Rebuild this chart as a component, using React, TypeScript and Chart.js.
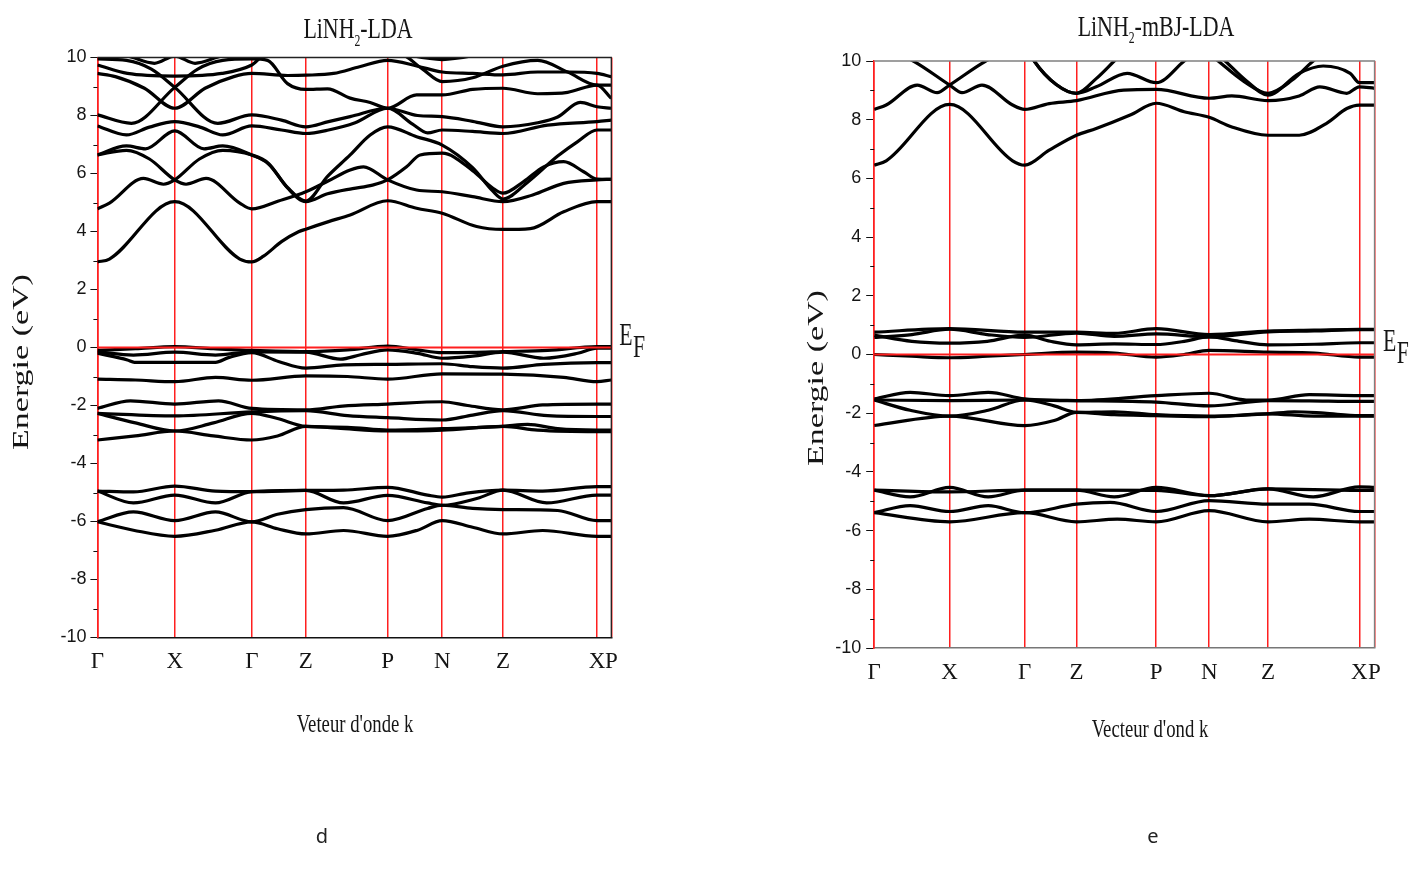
import React, { useEffect, useRef } from 'react';
import { Chart, registerables } from 'chart.js';

Chart.register(...registerables);

type Pt = [number, number];

// ---------- axis data ----------
const kLabels = ['Γ', 'X', 'Γ', 'Z', 'P', 'N', 'Z', 'X', 'P'];
const ldaKPoints = [0, 77.3, 154.3, 208.3, 290, 344.6, 405.3, 499.3, 513.6];
const mbjKPoints = [0, 75.4, 150.4, 202.2, 282, 335, 393.8, 485.1, 500.3];
const energyTicks = [-10, -8, -6, -4, -2, 0, 2, 4, 6, 8, 10];
const energyMinorTicks = [-9, -7, -5, -3, -1, 1, 3, 5, 7, 9];
const energyMin = -10;
const energyMax = 10;
const fermiLevel = 0;

// ---------- LiNH2-LDA : conduction bands [k, E(eV)] ----------
const ldaC1: Pt[] = [[0,2.95],[12,3.05],[77.3,5.03],[142.3,3.05],[154.3,2.95],[166,3.15],[184,3.65],[201,3.99],[208.3,4.08],[231,4.34],[252.6,4.57],[290,5.06],[319,4.8],[344.6,4.63],[379,4.17],[405.3,4.07],[432.6,4.1],[466,4.68],[499.3,5.03],[513.6,5.03]];
const ldaC2: Pt[] = [[0,4.78],[12,4.98],[46,5.83],[66,5.63],[77.3,5.78],[102,6.5],[125.3,6.8],[154.3,6.64],[171,6.35],[190,5.5],[208.3,5.03],[230,5.3],[255,5.48],[275,5.6],[290,5.78],[309,6.23],[322.6,6.64],[344.6,6.7],[375,6.1],[395,5.5],[405.3,5.32],[426,5.72],[446,6.23],[466,6.41],[486,6.06],[499.3,5.81],[513.6,5.8]];
const ldaC3: Pt[] = [[0,6.64],[29,6.8],[52,6.5],[77.3,5.78],[88.6,5.63],[108.6,5.83],[142.3,4.98],[154.3,4.78],[181,5.05],[208.3,5.37],[231,5.75],[252.6,6.12],[266,6.23],[290,5.78],[319,5.43],[344.6,5.37],[375,5.2],[405.3,5.03],[435,5.26],[466,5.66],[499.3,5.78],[513.6,5.8]];
const ldaC4: Pt[] = [[0,6.64],[29,6.95],[48,6.85],[77.3,7.47],[106.6,6.85],[125.3,6.95],[154.3,6.64],[171,6.33],[190,5.52],[208.3,5.05],[230,5.9],[252.6,6.64],[272.6,7.33],[290,7.61],[319,7.27],[344.6,6.98],[375,6.2],[395,5.4],[405.3,5.12],[430,5.7],[460,6.6],[480,7.1],[499.3,7.5],[513.6,7.5]];
const ldaC5: Pt[] = [[0,7.64],[29,7.33],[52,7.6],[77.3,7.79],[102.6,7.6],[125.3,7.33],[154.3,7.64],[184,7.5],[208.3,7.38],[231,7.5],[257.6,7.75],[290,8.25],[315,7.7],[330,7.4],[344.6,7.5],[375,7.45],[405.3,7.38],[450,7.67],[499.3,7.79],[513.6,7.84]];
const ldaC6: Pt[] = [[0,9.95],[29,9.9],[54,9.6],[77.3,8.97],[120.3,7.73],[154.3,8.02],[184,7.84],[208.3,7.61],[231,7.79],[252.6,7.96],[290,8.25],[320,8.0],[344.6,7.96],[375,7.8],[405.3,7.61],[440,7.75],[460,7.95],[482.6,8.45],[499.3,8.3],[513.6,8.25]];
const ldaC7: Pt[] = [[0,8.02],[34,7.73],[77.3,8.97],[100.3,9.6],[125.3,9.9],[154.3,9.95],[170,9.9],[190,9.1],[208.3,8.9],[230,8.92],[252.6,8.6],[272.6,8.45],[290,8.25],[319,8.71],[344.6,8.71],[375,8.9],[405.3,8.94],[440,8.75],[470,8.8],[499.3,9.05],[513.6,8.59]];
const ldaC8: Pt[] = [[0,9.45],[18,9.34],[47,8.94],[77.3,8.25],[107.6,8.94],[136.3,9.34],[154.3,9.45],[190,9.38],[208.3,9.39],[236,9.45],[262,9.68],[290,9.9],[320,9.7],[344.6,9.5],[375,9.45],[405.3,9.4],[440,9.5],[470,9.5],[499.3,9.45],[513.6,9.34]];
const ldaC9: Pt[] = [[0,9.74],[30,9.45],[77.3,9.36],[124.3,9.45],[154.3,9.74],[170,10.15],[300,10.15],[325,9.6],[344.6,9.17],[375,9.3],[405.3,9.7],[440,9.9],[470,9.5],[499.3,9.05],[513.6,9.05]];
const ldaC10: Pt[] = [[0,10.2],[30,10.05],[57,9.8],[77.3,10.05],[97.6,9.8],[124.3,10.05],[154.3,10.2]];
const ldaC11: Pt[] = [[300,10.15],[344.6,9.93],[390,10.15]];

// ---------- LiNH2-LDA : valence bands ----------
const ldaV1: Pt[] = [[0,-0.1],[38,-0.04],[77.3,0.03],[116,-0.04],[154.3,-0.1],[208.3,-0.14],[250,-0.08],[290,0.05],[320,-0.08],[344.6,-0.18],[375,-0.17],[405.3,-0.14],[450,-0.1],[499.3,0.03],[513.6,0.03]];
const ldaV2: Pt[] = [[0,-0.15],[36,-0.26],[77.3,-0.16],[118,-0.26],[154.3,-0.15],[208.3,-0.16],[243,-0.4],[263,-0.25],[290,-0.08],[320,-0.2],[344.6,-0.37],[375,-0.3],[405.3,-0.16],[446,-0.37],[480,-0.2],[499.3,-0.02],[513.6,-0.02]];
const ldaV3: Pt[] = [[0,-0.2],[30,-0.43],[37,-0.51],[77.3,-0.51],[118,-0.51],[131,-0.35],[154.3,-0.18],[181,-0.48],[208.3,-0.71],[246,-0.6],[290,-0.58],[344.6,-0.56],[375,-0.66],[405.3,-0.71],[446,-0.58],[499.3,-0.52],[513.6,-0.52]];
const ldaV4: Pt[] = [[0,-1.09],[38,-1.12],[77.3,-1.18],[118,-1.03],[154.3,-1.13],[208.3,-0.98],[250,-1.0],[290,-1.09],[344.6,-0.91],[405.3,-0.92],[466,-1.03],[499.3,-1.18],[513.6,-1.12]];
const ldaV5: Pt[] = [[0,-2.1],[33,-1.84],[77.3,-1.95],[121,-1.84],[154.3,-2.1],[208.3,-2.15],[245,-2.02],[290,-1.95],[344.6,-1.87],[370,-2.0],[405.3,-2.15],[445,-1.98],[499.3,-1.95],[513.6,-1.95]];
const ldaV6: Pt[] = [[0,-2.27],[77.3,-2.36],[154.3,-2.22],[208.3,-2.18],[250,-2.35],[290,-2.42],[344.6,-2.5],[375,-2.33],[405.3,-2.18],[450,-2.35],[499.3,-2.38],[513.6,-2.38]];
const ldaV7: Pt[] = [[0,-2.27],[38,-2.6],[77.3,-2.88],[116,-2.6],[154.3,-2.27],[180,-2.45],[208.3,-2.72],[250,-2.75],[290,-2.85],[344.6,-2.8],[405.3,-2.72],[430,-2.65],[460,-2.8],[499.3,-2.85],[513.6,-2.85]];
const ldaV8: Pt[] = [[0,-3.19],[38,-3.05],[77.3,-2.88],[116,-3.05],[154.3,-3.19],[180,-3.05],[208.3,-2.72],[240,-2.78],[290,-2.88],[344.6,-2.85],[405.3,-2.72],[440,-2.85],[499.3,-2.9],[513.6,-2.9]];
const ldaV9: Pt[] = [[0,-4.95],[36,-4.98],[77.3,-4.78],[118,-4.95],[154.3,-4.97],[208.3,-4.93],[246,-4.92],[290,-4.82],[330,-5.09],[344.6,-5.16],[371,-5.01],[405.3,-4.92],[445,-4.95],[499.3,-4.8],[513.6,-4.8]];
const ldaV10: Pt[] = [[0,-4.95],[36,-5.36],[77.3,-5.09],[118,-5.36],[154.3,-4.97],[208.3,-4.93],[246,-5.36],[290,-5.1],[330,-5.36],[344.6,-5.44],[380,-5.2],[405.3,-4.92],[449,-5.36],[499.3,-5.09],[513.6,-5.09]];
const ldaV11: Pt[] = [[0,-6.01],[36,-5.67],[77.3,-5.97],[118,-5.67],[154.3,-6.01],[180,-5.75],[208.3,-5.59],[246,-5.52],[290,-5.97],[330,-5.55],[344.6,-5.44],[375,-5.55],[405.3,-5.59],[460,-5.62],[499.3,-5.97],[513.6,-5.97]];
const ldaV12: Pt[] = [[0,-6.01],[36,-6.3],[77.3,-6.51],[118,-6.3],[154.3,-6.01],[180,-6.25],[208.3,-6.43],[246,-6.31],[290,-6.51],[320,-6.3],[344.6,-5.97],[375,-6.2],[405.3,-6.43],[445,-6.31],[499.3,-6.51],[513.6,-6.51]];

// ---------- LiNH2-mBJ-LDA : conduction bands ----------
const mbjC1: Pt[] = [[0,6.45],[12,6.6],[75.4,8.52],[138.4,6.6],[150.4,6.45],[175,6.96],[202.2,7.47],[222,7.7],[256,8.16],[282,8.56],[310,8.27],[335,8.08],[357,7.76],[393.8,7.47],[425,7.47],[452,7.87],[472.6,8.38],[485.1,8.5],[500.3,8.5]];
const mbjC2: Pt[] = [[0,8.35],[12,8.5],[43,9.18],[63,8.92],[75.4,9.18],[110.8,9.98],[150.4,10.6],[160,10.0],[182,9.2],[202.2,8.9],[222,9.12],[253,9.58],[282,9.26],[310,10.0],[325,10.4]];
const mbjC3: Pt[] = [[0,10.6],[40,9.98],[75.4,9.18],[87.8,8.92],[107.8,9.18],[138.4,8.5],[150.4,8.35],[175,8.55],[202.2,8.65],[249.5,9.01],[282,9.03],[335,8.73],[357.6,8.81],[393.8,8.65],[425,8.81],[445.6,9.12],[472.6,8.9],[485.1,9.12],[500.3,9.07]];
const mbjC4: Pt[] = [[150.4,10.6],[160,10.0],[182,9.2],[202.2,8.9],[222,9.4],[240,10.0],[255,10.5]];
const mbjC5: Pt[] = [[330,10.4],[344,10.0],[370,9.3],[393.8,8.9],[418,9.35],[439,10.0],[455,10.4]];
const mbjC6: Pt[] = [[335,10.5],[351,10.0],[373,9.3],[393.8,8.84],[425,9.58],[449,9.83],[476,9.58],[485.1,9.26],[500.3,9.26]];

// ---------- LiNH2-mBJ-LDA : valence bands ----------
const mbjV1: Pt[] = [[0,0.76],[75.4,0.88],[150.4,0.76],[202.2,0.76],[240,0.72],[282,0.88],[335,0.68],[393.8,0.8],[440,0.83],[485.1,0.86],[500.3,0.86]];
const mbjV2: Pt[] = [[0,0.58],[37.7,0.68],[75.4,0.86],[113,0.68],[150.4,0.58],[202.2,0.73],[240,0.62],[282,0.7],[335,0.6],[393.8,0.77],[440,0.8],[485.1,0.85],[500.3,0.85]];
const mbjV3: Pt[] = [[0,0.66],[37.7,0.45],[75.4,0.39],[113,0.45],[150.4,0.66],[176,0.45],[202.2,0.33],[240,0.36],[282,0.34],[310,0.45],[335,0.6],[365,0.45],[393.8,0.33],[440,0.35],[485.1,0.4],[500.3,0.4]];
const mbjV4: Pt[] = [[0,0.0],[37.7,-0.06],[75.4,-0.11],[113,-0.06],[150.4,0.0],[202.2,0.08],[240,0.05],[282,-0.09],[310,0.0],[335,0.14],[393.8,0.08],[440,0.05],[485.1,-0.09],[500.3,-0.09]];
const mbjV5: Pt[] = [[0,-1.51],[36,-1.29],[75.4,-1.4],[114,-1.29],[150.4,-1.51],[202.2,-1.57],[282,-1.4],[335,-1.32],[372,-1.55],[393.8,-1.55],[435,-1.37],[485.1,-1.4],[500.3,-1.4]];
const mbjV6: Pt[] = [[0,-1.55],[75.4,-1.57],[150.4,-1.55],[202.2,-1.57],[282,-1.62],[335,-1.75],[393.8,-1.57],[435,-1.58],[485.1,-1.6],[500.3,-1.6]];
const mbjV7: Pt[] = [[0,-1.55],[36,-1.9],[75.4,-2.1],[114,-1.9],[150.4,-1.55],[180,-1.75],[202.2,-1.97],[240,-1.95],[282,-2.05],[335,-2.1],[393.8,-2.02],[420,-1.95],[450,-2.0],[485.1,-2.08],[500.3,-2.08]];
const mbjV8: Pt[] = [[0,-2.42],[75.4,-2.1],[150.4,-2.42],[180,-2.25],[202.2,-1.97],[240,-2.05],[282,-2.08],[335,-2.12],[393.8,-2.02],[440,-2.1],[485.1,-2.1],[500.3,-2.1]];
const mbjV9: Pt[] = [[0,-4.62],[36,-4.85],[75.4,-4.53],[114,-4.85],[150.4,-4.62],[202.2,-4.62],[240,-4.85],[282,-4.53],[335,-4.81],[393.8,-4.58],[439,-4.85],[485.1,-4.51],[500.3,-4.53]];
const mbjV10: Pt[] = [[0,-4.62],[75.4,-4.68],[150.4,-4.62],[202.2,-4.62],[282,-4.63],[335,-4.81],[393.8,-4.58],[485.1,-4.63],[500.3,-4.63]];
const mbjV11: Pt[] = [[0,-5.39],[36,-5.15],[75.4,-5.35],[114,-5.15],[150.4,-5.39],[202.2,-5.1],[236,-5.04],[282,-5.35],[335,-4.98],[393.8,-5.1],[435,-5.1],[485.1,-5.35],[500.3,-5.35]];
const mbjV12: Pt[] = [[0,-5.39],[75.4,-5.7],[150.4,-5.39],[202.2,-5.7],[243,-5.61],[282,-5.7],[335,-5.32],[393.8,-5.7],[435,-5.61],[485.1,-5.7],[500.3,-5.7]];

const ldaBands = [ldaC1, ldaC2, ldaC3, ldaC4, ldaC5, ldaC6, ldaC7, ldaC8, ldaC9, ldaC10, ldaC11,
  ldaV1, ldaV2, ldaV3, ldaV4, ldaV5, ldaV6, ldaV7, ldaV8, ldaV9, ldaV10, ldaV11, ldaV12];
const mbjBands = [mbjC1, mbjC2, mbjC3, mbjC4, mbjC5, mbjC6,
  mbjV1, mbjV2, mbjV3, mbjV4, mbjV5, mbjV6, mbjV7, mbjV8, mbjV9, mbjV10, mbjV11, mbjV12];

// ---------- layout / style ----------
const SERIF = '"Liberation Serif", "Times New Roman", serif';
const SANS = '"Liberation Sans", Arial, sans-serif';
const RED = '#ff1f1f';

const PANELS = [
  {
    id: 'lda', bands: ldaBands, kPoints: ldaKPoints, left: 0, width: 705, height: 874,
    padding: { left: 0, right: 93.7, top: 57.5, bottom: 136.5 }, yAxisWidth: 97.4, xAxisHeight: 100,
    tickLen: 7, tickPad: 4, axisColor: '#111', frameColor: '#222',
    title: ['LiNH', '2', '-LDA'], titleX: 358, titleY: 38.3,
    xTitle: "Veteur d'onde k", xTitleX: 355, xTitleY: 732,
    yTitleX: 22.5, yTitleY: 362, efX: 619.3, efDyE: -2.5, efDyF: 9.2,
  },
  {
    id: 'mbj', bands: mbjBands, kPoints: mbjKPoints, left: 705, width: 705, height: 874,
    padding: { left: 71.8, right: 35.5, top: 61, bottom: 126 }, yAxisWidth: 97.4, xAxisHeight: 100,
    tickLen: 8, tickPad: 5, axisColor: '#777', frameColor: '#808080',
    title: ['LiNH', '2', '-mBJ-LDA'], titleX: 1156, titleY: 35.5,
    xTitle: "Vecteur d'ond k", xTitleX: 1150, xTitleY: 737,
    yTitleX: 817.5, yTitleY: 378, efX: 1383, efDyE: -4, efDyF: 8,
  },
];

function drawScaled(ctx: CanvasRenderingContext2D, text: string, x: number, y: number, font: string, sx: number, align: CanvasTextAlign = 'left') {
  ctx.save();
  ctx.translate(x, y);
  ctx.scale(sx, 1);
  ctx.font = font;
  ctx.textAlign = align;
  ctx.textBaseline = 'alphabetic';
  ctx.fillText(text, 0, 0);
  ctx.restore();
}

function makeDecor(spec: any) {
  return {
    id: 'decor_' + spec.id,
    afterDraw(chart: any) {
      const { ctx, chartArea: a, scales } = chart;
      const yS = scales.y;
      const ox = spec.left;
      ctx.save();
      // minor ticks
      ctx.strokeStyle = '#111';
      ctx.lineWidth = 1;
      for (const v of energyMinorTicks) {
        const py = Math.round(yS.getPixelForValue(v)) + 0.5;
        ctx.beginPath();
        ctx.moveTo(a.left - 4, py);
        ctx.lineTo(a.left, py);
        ctx.stroke();
      }
      // frame top + right
      ctx.strokeStyle = spec.frameColor;
      ctx.lineWidth = 1.3;
      ctx.beginPath();
      ctx.moveTo(a.left, a.top);
      ctx.lineTo(a.right, a.top);
      ctx.lineTo(a.right, a.bottom);
      ctx.stroke();

      ctx.fillStyle = '#151515';
      // title with subscript
      const sx = 0.73;
      const parts = [
        { t: spec.title[0], size: 30, dy: 0 },
        { t: spec.title[1], size: 16, dy: 7.7 },
        { t: spec.title[2], size: 30, dy: 0 },
      ];
      let total = 0;
      for (const p of parts) { ctx.font = `${p.size}px ${SERIF}`; total += ctx.measureText(p.t).width * sx; }
      let x = spec.titleX - ox - total / 2;
      for (const p of parts) {
        const f = `${p.size}px ${SERIF}`;
        drawScaled(ctx, p.t, x, spec.titleY + p.dy, f, sx);
        ctx.font = f;
        x += ctx.measureText(p.t).width * sx;
      }
      // x axis title
      drawScaled(ctx, spec.xTitle, spec.xTitleX - ox, spec.xTitleY, `26px ${SERIF}`, 0.72, 'center');
      // y axis title (rotated)
      ctx.save();
      ctx.translate(spec.yTitleX - ox, spec.yTitleY);
      ctx.scale(0.65, 1);
      ctx.rotate(-Math.PI / 2);
      ctx.font = `34px ${SERIF}`;
      ctx.textAlign = 'center';
      ctx.textBaseline = 'middle';
      ctx.fillText('Energie (eV)', 0, 0);
      ctx.restore();
      // E_F label
      const fy = yS.getPixelForValue(fermiLevel);
      const efFont = `32px ${SERIF}`;
      ctx.font = efFont;
      const eW = ctx.measureText('E').width * 0.68;
      drawScaled(ctx, 'E', spec.efX - ox, fy + spec.efDyE, efFont, 0.68);
      drawScaled(ctx, 'F', spec.efX - ox + eW + 0.5, fy + spec.efDyF, efFont, 0.68);
      ctx.restore();
    },
  };
}

function buildConfig(spec: any) {
  const kMin = spec.kPoints[0];
  const kMax = spec.kPoints[spec.kPoints.length - 1];
  const datasets: any[] = spec.bands.map((b: Pt[]) => ({
    data: b.map(([k, e]) => ({ x: k, y: e })),
    borderColor: '#000',
    borderWidth: 3.2,
    pointRadius: 0,
    cubicInterpolationMode: 'monotone',
    fill: false,
    clip: 0,
    order: 1,
  }));
  datasets.push({
    data: [{ x: kMin, y: fermiLevel }, { x: kMax, y: fermiLevel }],
    borderColor: RED,
    borderWidth: 2,
    pointRadius: 0,
    fill: false,
    clip: 2,
    order: 0,
  });
  return {
    type: 'line',
    data: { datasets },
    options: {
      animation: false,
      responsive: false,
      devicePixelRatio: 1,
      events: [],
      layout: { padding: spec.padding },
      plugins: { legend: { display: false }, tooltip: { enabled: false }, title: { display: false } },
      scales: {
        x: {
          type: 'linear',
          min: kMin,
          max: kMax,
          afterBuildTicks: (scale: any) => { scale.ticks = spec.kPoints.map((v: number) => ({ value: v })); },
          afterFit: (scale: any) => { scale.height = spec.xAxisHeight; },
          ticks: {
            autoSkip: false,
            maxRotation: 0,
            minRotation: 0,
            padding: 11,
            color: '#151515',
            font: { family: SERIF, size: 23 },
            callback: (_v: any, i: number) => kLabels[i],
          },
          grid: { color: RED, lineWidth: 1.5, drawTicks: false, drawOnChartArea: true },
          border: { display: true, color: spec.axisColor, width: 1.6 },
        },
        y: {
          type: 'linear',
          min: energyMin,
          max: energyMax,
          afterBuildTicks: (scale: any) => { scale.ticks = energyTicks.map((v) => ({ value: v })); },
          afterFit: (scale: any) => { scale.width = spec.yAxisWidth; },
          ticks: {
            padding: spec.tickPad,
            color: '#151515',
            font: { family: SANS, size: 18 },
            callback: (v: any) => String(v),
          },
          grid: { drawOnChartArea: false, drawTicks: true, tickLength: spec.tickLen, color: '#111', lineWidth: 1 },
          border: { display: true, color: RED, width: 1.6 },
        },
      },
    },
    plugins: [makeDecor(spec)],
  };
}

function Panel({ spec }: { spec: any }) {
  const ref = useRef<HTMLCanvasElement>(null);
  useEffect(() => {
    if (!ref.current) return;
    const chart = new Chart(ref.current, buildConfig(spec) as any);
    return () => chart.destroy();
  }, [spec]);
  return (
    <canvas
      ref={ref}
      width={spec.width}
      height={spec.height}
      style={{ position: 'absolute', left: spec.left, top: 0, width: spec.width, height: spec.height }}
    />
  );
}

export default function App() {
  const letterStyle: React.CSSProperties = {
    position: 'absolute', top: 822, width: 40, textAlign: 'center',
    fontFamily: '"Noto Sans", "Open Sans", sans-serif', fontSize: 20, lineHeight: '28px', color: '#222',
  };
  return (
    <div style={{ position: 'absolute', left: 0, top: 0, width: 1410, height: 874, background: '#fff' }}>
      {PANELS.map((p) => <Panel key={p.id} spec={p} />)}
      <div style={{ ...letterStyle, left: 302 }}>d</div>
      <div style={{ ...letterStyle, left: 1133 }}>e</div>
    </div>
  );
}
